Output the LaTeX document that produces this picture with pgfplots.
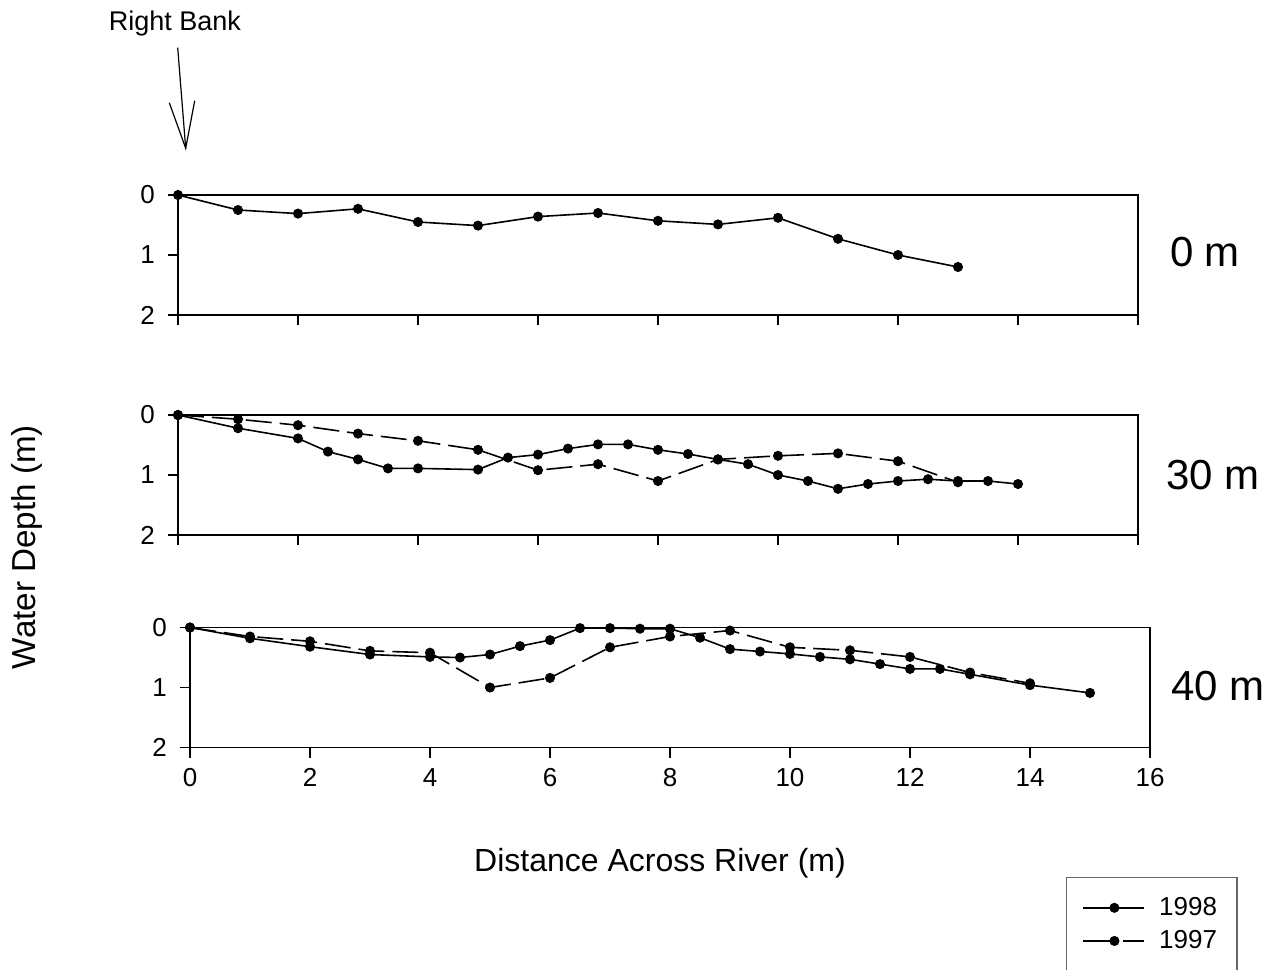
\documentclass[border=0pt]{standalone}
\usepackage{fontspec}
\setmainfont{Liberation Sans}
\usepackage{pgfplots}
\pgfplotsset{compat=1.18}
\pgfplotsset{
  panel/.style={
    scale only axis, width=480pt, height=60pt,
    xmin=0, xmax=16, ymin=0, ymax=2, y dir=reverse,
    xtick={0,2,...,16}, ytick={0,1,2},
    tick align=outside, major tick length=5pt,
    xtick pos=left, ytick pos=left,
    axis line style={black, line width=0.7pt},
    every tick/.style={black, line width=0.7pt},
    tick label style={font=\fontsize{13}{15}\selectfont},
    yticklabel style={xshift=-3pt},
    xticklabel style={yshift=-2pt},
    /pgf/number format/assume math mode=true,
    clip=false,
  },
  y1998/.style={black, line width=0.8pt, mark=*, mark size=2.1pt,
    legend image code/.code={\draw[##1, mark repeat=2, mark phase=2] plot coordinates {(0pt,0pt) (15.5pt,0pt) (30.5pt,0pt)};}},
  y1997/.style={black, line width=0.8pt, dash pattern=on 13pt off 4pt, mark=*, mark size=2.1pt, mark options={solid},
    legend image code/.code={\draw[##1, dash pattern=on 17.5pt off 2.5pt on 20pt off 0pt, mark repeat=2, mark phase=2] plot coordinates {(0pt,0pt) (15.5pt,0pt) (30.5pt,0pt)};}},
}
\begin{document}
\begin{tikzpicture}
\useasboundingbox (0,0) rectangle (641pt,-485pt);
% top panel: 0 m
\begin{axis}[panel, at={(329pt,-127.5pt)}, anchor=center, xticklabels={}]
\addplot[y1998] table {
x y
0 0
1 0.25
2 0.31
3 0.23
4 0.45
5 0.51
6 0.36
7 0.30
8 0.43
9 0.49
10 0.38
11 0.73
12 1.00
13 1.20
};
\end{axis}
% middle panel: 30 m
\begin{axis}[panel, at={(329pt,-237.5pt)}, anchor=center, xticklabels={}]
\addplot[y1998] table {
x y
0 0
1 0.22
2 0.39
2.5 0.61
3 0.74
3.5 0.89
4 0.89
5 0.91
5.5 0.71
6 0.66
6.5 0.56
7 0.49
7.5 0.49
8 0.58
8.5 0.65
9 0.74
9.5 0.82
10 1.00
10.5 1.10
11 1.23
11.5 1.15
12 1.10
12.5 1.07
13 1.10
13.5 1.10
14 1.15
};
\addplot[y1997] table {
x y
0 0
1 0.07
2 0.17
3 0.31
4 0.43
5 0.58
6 0.92
7 0.82
8 1.10
9 0.74
10 0.68
11 0.64
12 0.77
13 1.12
};
\end{axis}
% bottom panel: 40 m
\begin{axis}[panel, at={(335pt,-343.75pt)}, anchor=center,
  yticklabel style={xshift=0pt},
  legend style={at={(axis description cs:0.9125,-1.076)}, anchor=north west,
    draw=black!60, line width=0.6pt, font=\fontsize{13}{15}\selectfont,
    inner xsep=8pt, inner ysep=8pt, row sep=2pt, cells={anchor=west},
    /tikz/every odd column/.append style={column sep=5pt}},
]
\addplot[y1998] table {
x y
0 0
1 0.18
2 0.32
3 0.45
4 0.49
4.5 0.50
5 0.45
5.5 0.31
6 0.21
6.5 0.01
7 0.01
7.5 0.02
8 0.02
8.5 0.17
9 0.36
9.5 0.40
10 0.44
10.5 0.49
11 0.53
11.5 0.61
12 0.69
12.5 0.69
13 0.78
14 0.96
15 1.09
};
\addlegendentry{1998}
\addplot[y1997] table {
x y
0 0
1 0.15
2 0.23
3 0.39
4 0.42
5 1.00
6 0.84
7 0.33
8 0.15
9 0.05
10 0.33
11 0.38
12 0.49
13 0.75
14 0.93
};
\addlegendentry{1997}
\end{axis}
% labels
\node[font=\fontsize{21}{25}\selectfont] at (602.5pt,-126pt) {0 m};
\node[font=\fontsize{21}{25}\selectfont] at (606.5pt,-237.5pt) {30 m};
\node[font=\fontsize{21}{25}\selectfont] at (609pt,-343pt) {40 m};
\node[font=\fontsize{16.6}{19}\selectfont, rotate=90] at (13.5pt,-273.5pt) {Water Depth (m)};
\node[font=\fontsize{16}{19}\selectfont] at (330pt,-431.5pt) {Distance Across River (m)};
\node[font=\fontsize{13.5}{16}\selectfont] at (87.5pt,-12pt) {Right Bank};
\draw[line width=0.6pt] (88.85pt,-23.85pt) -- (92.85pt,-74.15pt);
\draw[line width=0.6pt] (84.65pt,-51.35pt) -- (92.85pt,-74.15pt) -- (97.35pt,-50.35pt);
\end{tikzpicture}
\end{document}
